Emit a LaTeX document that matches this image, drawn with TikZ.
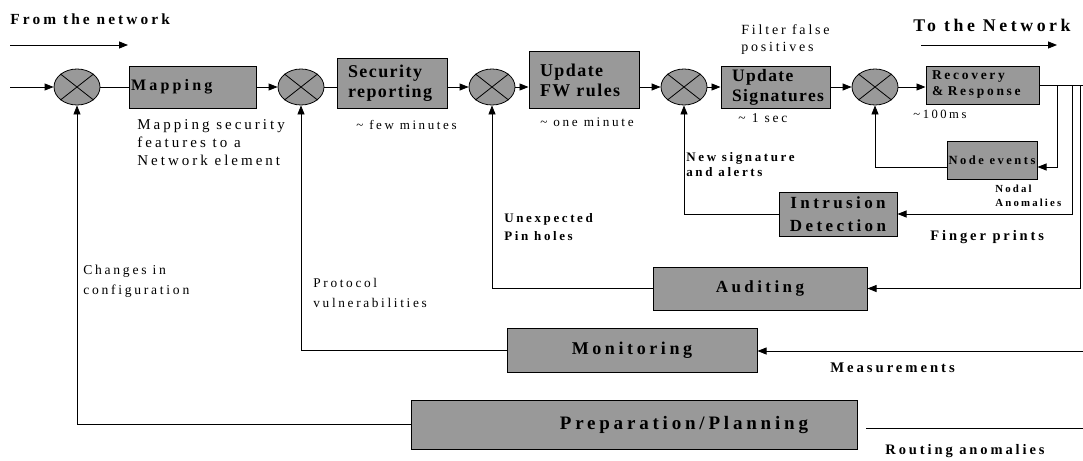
\documentclass[tikz,border=0pt]{standalone}
\usepackage{fontspec}
\setmainfont{Liberation Serif}[LetterSpace=20]
\newfontfamily\tightfont{Liberation Serif}[LetterSpace=8]
\usetikzlibrary{arrows.meta,shapes.geometric}
\definecolor{boxgray}{RGB}{153,153,153}
\newcommand{\fs}[2]{\fontsize{#1}{#2}\selectfont}
\newcommand{\junction}[2]{%
  \node[sum] (#1) at (#2,87) {};
  \draw (#1.north west) -- (#1.south east) (#1.north east) -- (#1.south west);
}

\begin{document}
\begin{tikzpicture}[x=1pt,y=-1pt,line width=0.8pt,
  every node/.style={inner sep=0pt},
  sum/.style={ellipse,draw,fill=boxgray,minimum width=46pt,minimum height=36pt},
  blk/.style={draw,fill=boxgray,line width=1pt},
  lbl/.style={anchor=west,align=left},
  flow/.style={-{Triangle[length=9pt,width=7pt]}}]
  \useasboundingbox (0,0) rectangle (1083,460);

  \foreach \n/\x in {c1/77,c2/301,c3/492,c4/684,c5/875} {\junction{\n}{\x}}

  \node[blk,minimum width=127pt,minimum height=42pt,text width=123pt,align=left,font=\bfseries\fs{16}{20}] (map) at (192.5,87) {Mapping};
  \node[blk,minimum width=110pt,minimum height=49pt,text width=88pt,align=left,font=\tightfont\bfseries\fs{18}{20}] (sec) at (392,83.5) {Security\\reporting};
  \node[blk,minimum width=110pt,minimum height=56pt,text width=88pt,align=left,font=\tightfont\bfseries\fs{18}{20}] (fw) at (584,80) {Update\\FW rules};
  \node[blk,minimum width=109pt,minimum height=42pt,text width=87pt,align=left,font=\tightfont\bfseries\fs{17.5}{20}] (sig) at (775.5,87) {Update\\Signatures};
  \node[blk,minimum width=113pt,minimum height=38pt,text width=101pt,align=left,font=\bfseries\fs{13.5}{16}] (rec) at (982.5,85) {Recovery\\\& Response};
  \node[blk,minimum width=90pt,minimum height=38pt,font=\bfseries\fs{12.5}{14}] (nev) at (992,160) {Node events};
  \node[blk,minimum width=118pt,minimum height=44pt,align=center,font=\bfseries\fs{17}{23}] (ids) at (838,214) {Intrusion\\Detection};
  \node[blk,minimum width=214pt,minimum height=43pt,font=\bfseries\fs{17}{20}] (aud) at (760,288.5) {Auditing};
  \node[blk,minimum width=250pt,minimum height=44pt,font=\bfseries\fs{18}{20}] (mon) at (632,350) {Monitoring};
  \node[blk,minimum width=446pt,minimum height=49pt,text width=348pt,align=right,font=\bfseries\fs{19}{22}] (prep) at (634,424.5) {Preparation/Planning};

  \node[lbl,font=\bfseries\fs{15.4}{16}] (fromlbl) at (10,19) {From the network};
  \node[lbl,font=\bfseries\fs{17.8}{20}] (tolbl) at (913,25) {To the Network};
  \node[lbl,font=\fs{15}{18}] (maplbl) at (137,143) {Mapping security\\features to a\\Network element};
  \node[lbl,font=\fs{13}{14}] (seclbl) at (356,125) {\textasciitilde{} few minutes};
  \node[lbl,font=\fs{13.2}{14}] (fwlbl) at (540,122) {\textasciitilde{} one minute};
  \node[lbl,font=\fs{14}{17}] (filtlbl) at (741,39.5) {Filter false\\positives};
  \node[lbl,font=\fs{13.5}{14}] (siglbl) at (738,118) {\textasciitilde{} 1 sec};
  \node[lbl,font=\fs{12.6}{14}] (reclbl) at (913,114) {\textasciitilde100ms};
  \node[lbl,font=\bfseries\fs{13}{15}] (newlbl) at (686,164.5) {New signature\\and alerts};
  \node[lbl,font=\bfseries\fs{10.8}{14}] (nodlbl) at (995,196) {Nodal\\Anomalies};
  \node[lbl,font=\bfseries\fs{14.5}{16}] (fplbl) at (930,237) {Finger prints};
  \node[lbl,font=\bfseries\fs{13}{18}] (pinlbl) at (504,227) {Unexpected\\Pin holes};
  \node[lbl,font=\fs{13.6}{20}] (cfglbl) at (83,281) {Changes in\\configuration};
  \node[lbl,font=\fs{13.3}{20}] (prolbl) at (313,293) {Protocol\\vulnerabilities};
  \node[lbl,font=\bfseries\fs{14.7}{16}] (measlbl) at (830,368) {Measurements};
  \node[lbl,font=\bfseries\fs{14.5}{16}] (routlbl) at (885,451) {Routing anomalies};

  \coordinate (fromA) at (10,45);
  \coordinate (fromB) at (128,45);
  \coordinate (toA) at (921,45);
  \coordinate (toB) at (1057,45);
  \coordinate (in) at (10,87);
  \coordinate (out) at (1083,85);
  \coordinate (tapA) at (1057,85);
  \coordinate (tapB) at (1072,85);
  \coordinate (tapC) at (1080,85);
  \coordinate (meas) at (1083,351);
  \coordinate (rout) at (1083,428);
  \coordinate (routend) at (866,428);

  \draw[flow] (fromA) -- (fromB);
  \draw[flow] (toA) -- (toB);
  \draw[flow] (in) -- (c1.west);
  \draw (c1.east) -- (map.west);
  \draw[flow] (map.east) -- (c2.west);
  \draw (c2.east) -- (c2.east -| sec.west);
  \draw[flow] (sec.east |- c3.west) -- (c3.west);
  \draw[flow] (c3.east) -- (c3.east -| fw.west);
  \draw[flow] (fw.east |- c4.west) -- (c4.west);
  \draw[flow] (c4.east) -- (c4.east -| sig.west);
  \draw[flow] (sig.east) -- (c5.west);
  \draw[flow] (c5.east) -- (c5.east -| rec.west);
  \draw (rec.east) -- (out);
  \draw[flow] (tapA) |- ([yshift=-7pt]nev.east);
  \draw[flow] (tapB) |- (ids.east);
  \draw[flow] (tapC) |- (aud.east);
  \draw[flow] ([yshift=-7pt]nev.west) -| (c5.south);
  \draw[flow] (ids.west) -| (c4.south);
  \draw[flow] (aud.west) -| (c3.south);
  \draw[flow] (mon.west) -| (c2.south);
  \draw[flow] (prep.west) -| (c1.south);
  \draw[flow] (meas) -- (meas -| mon.east);
  \draw (rout) -- (routend);
\end{tikzpicture}
\end{document}
